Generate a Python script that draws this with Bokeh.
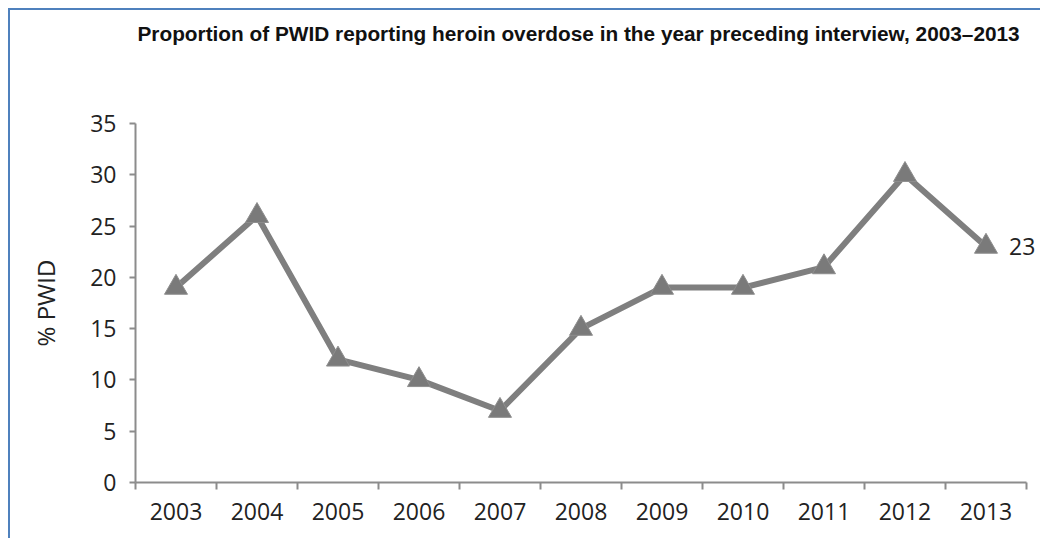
from bokeh.plotting import figure
from bokeh.models import FixedTicker, ColumnDataSource, Label, Range1d, Title
from bokeh.embed import file_html
from bokeh.resources import INLINE

years = ["2003", "2004", "2005", "2006", "2007", "2008", "2009", "2010", "2011", "2012", "2013"]
pct_pwid = [19, 26, 12, 10, 7, 15, 19, 19, 21, 30, 23]
y_ticks = [0, 5, 10, 15, 20, 25, 30, 35]
title_text = "Proportion of PWID reporting heroin overdose in the year preceding interview, 2003\u20132013"

n = len(years)
xs = [i + 0.5 for i in range(n)]
src = ColumnDataSource(dict(x=xs, y=pct_pwid))

p = figure(width=1032, height=530, output_backend="svg", toolbar_location=None,
           x_range=Range1d(0, n + 0.173), y_range=Range1d(0, 35),
           min_border_left=125, min_border_right=2, min_border_top=113, min_border_bottom=58,
           styles={"margin-left": "8px", "margin-top": "8px",
                   "border-left": "2px solid #4f81bd", "border-top": "2px solid #4f81bd"})
p.title = None

# white (invisible) spacer nearest the plot area that pushes the title upwards
spacer = Title(text="\u00a0", text_color="#ffffff", text_font_size="10px", standoff=61)
p.add_layout(spacer, "above")

main_title = Title(text=title_text, text_font="Liberation Sans", text_font_style="bold",
                   text_font_size="20.8px", text_color="#111111", align="left",
                   offset=2, standoff=10)
p.add_layout(main_title, "above")

p.outline_line_color = None
p.grid.grid_line_color = None

LABEL_FONT = "Open Sans"
LABEL_SIZE = "23px"
AXIS_GREY = "#8c8c8c"

# x axis
xa = p.below[0]
xa.bounds = (0, n)
xa.ticker = FixedTicker(ticks=xs, minor_ticks=list(range(n + 1)))
xa.major_label_overrides = {x: y for x, y in zip(xs, years)}
xa.major_tick_out = 0
xa.major_tick_in = 0
xa.minor_tick_out = 7
xa.minor_tick_in = 0
xa.minor_tick_line_color = AXIS_GREY
xa.minor_tick_line_width = 2
xa.axis_line_color = AXIS_GREY
xa.axis_line_width = 2
xa.major_label_standoff = 13
xa.major_label_text_font = LABEL_FONT
xa.major_label_text_font_size = LABEL_SIZE
xa.major_label_text_color = "#222222"

# y axis
ya = p.left[0]
ya.ticker = FixedTicker(ticks=y_ticks, minor_ticks=[])
ya.major_tick_out = 6
ya.major_tick_in = 0
ya.major_tick_line_color = AXIS_GREY
ya.major_tick_line_width = 2
ya.axis_line_color = AXIS_GREY
ya.axis_line_width = 2
ya.major_label_standoff = 13
ya.major_label_text_font = LABEL_FONT
ya.major_label_text_font_size = LABEL_SIZE
ya.major_label_text_color = "#222222"
ya.axis_label = "% PWID"
ya.axis_label_text_font = LABEL_FONT
ya.axis_label_text_font_size = "24px"
ya.axis_label_text_font_style = "normal"
ya.axis_label_text_color = "#222222"
ya.axis_label_standoff = 25

p.line("x", "y", source=src, line_color="#7f7f7f", line_width=6)
p.scatter("x", "y", source=src, marker="triangle", size=23,
          fill_color="#7a7a7a", line_color="#8e8e8e", line_width=1)

p.add_layout(Label(x=xs[-1], y=pct_pwid[-1], text=str(pct_pwid[-1]), x_offset=23,
                   text_baseline="middle", text_font=LABEL_FONT, text_font_size=LABEL_SIZE,
                   text_color="#222222"))

open("out.html", "w").write(file_html(p, INLINE))
